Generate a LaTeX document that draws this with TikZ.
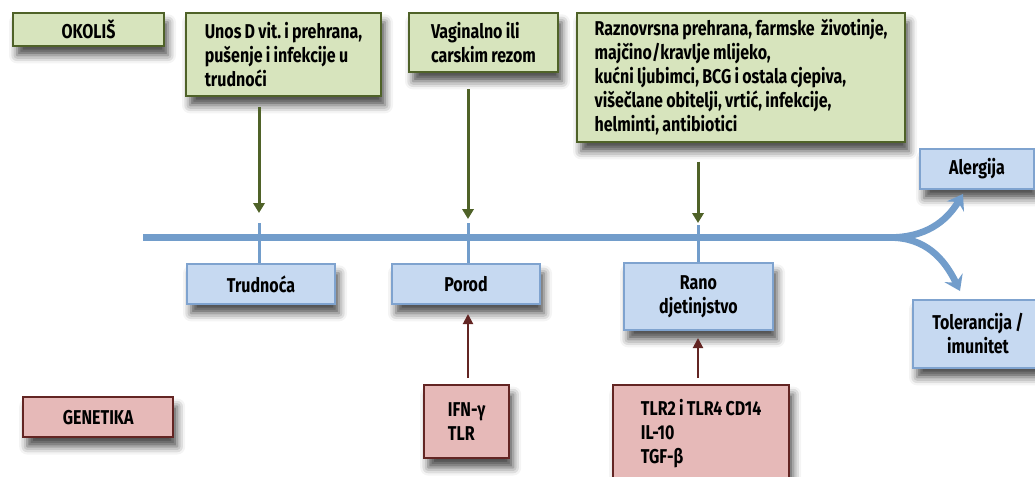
\documentclass[tikz,border=0pt]{standalone}
\usepackage{fontspec}
\setmainfont{Fira Sans}[FakeStretch=0.8, WordSpace=0.85]
\usetikzlibrary{arrows.meta,shadows.blur}
\definecolor{okolisfill}{HTML}{D7E4BD}
\definecolor{okolisline}{HTML}{4F6228}
\definecolor{stadijfill}{HTML}{C6D9F1}
\definecolor{stadijline}{HTML}{7FA3CF}
\definecolor{osline}{HTML}{729DCB}
\definecolor{genfill}{HTML}{E6B9B8}
\definecolor{genline}{HTML}{632523}
\frenchspacing
\begin{document}
\begin{tikzpicture}[x=0.75pt, y=-0.75pt,
    okolis/.style={rectangle, draw=okolisline, fill=okolisfill, line width=1.5pt,
        anchor=north west, inner xsep=3pt, inner ysep=2pt, align=left,
        font=\bfseries\fontsize{15}{18}\selectfont,
        blur shadow={shadow xshift=3pt, shadow yshift=-7pt, shadow blur radius=6pt, shadow opacity=70}},
    stadij/.style={rectangle, draw=stadijline, fill=stadijfill, line width=1.5pt,
        anchor=north west, inner xsep=3pt, inner ysep=2pt, align=center,
        font=\bfseries\fontsize{15}{18}\selectfont,
        blur shadow={shadow xshift=3pt, shadow yshift=-7pt, shadow blur radius=6pt, shadow opacity=70}},
    genetika/.style={rectangle, draw=genline, fill=genfill, line width=1.8pt,
        anchor=north west, inner xsep=3pt, inner ysep=2pt, align=left,
        font=\bfseries\fontsize{15}{18}\selectfont,
        blur shadow={shadow xshift=3pt, shadow yshift=-7pt, shadow blur radius=6pt, shadow opacity=70}},
    utjecaj/.style={draw=okolisline, line width=2.25pt, -{Triangle[length=7.5pt, width=8.5pt]}},
    nasljedje/.style={draw=genline, line width=1.5pt, -{Triangle[length=7.5pt, width=7.5pt]}},
    os/.style={draw=osline, line width=5pt},
    zarez/.style={draw=osline, line width=2.25pt},
    grana/.style={draw=osline, line width=5pt, -{Stealth[length=11pt, width=15pt, inset=4pt]}}
]
\useasboundingbox (0,0) rectangle (1035,476);

\node (Okolis) [okolis, minimum width=113.25pt, minimum height=24.75pt] at (12,12) {OKOLIŠ};
\node (Unos) [okolis, minimum width=146.25pt, minimum height=62.25pt] at (185,12)
  {Unos D vit. i prehrana,\\ pušenje i infekcije u\\ trudnoći};
\node (Vaginalno) [okolis, minimum width=111.75pt, minimum height=44.25pt] at (408,12)
  {Vaginalno ili\\ carskim rezom};
\node (Raznovrsna) [okolis, minimum width=246pt, minimum height=96.75pt] at (576,12)
  {Raznovrsna prehrana, farmske~ životinje,\\ majčino/kravlje mlijeko,\\ kućni ljubimci, BCG i ostala cjepiva,\\ višečlane obitelji, vrtić, infekcije,\\ helminti, antibiotici};

\node (Trudnoca) [stadij, minimum width=111pt, minimum height=30pt] at (186,263) {Trudnoća};
\node (Porod) [stadij, minimum width=111pt, minimum height=30pt] at (391,263) {Porod};
\node (Rano) [stadij, minimum width=111.75pt, minimum height=50.25pt] at (623,262) {Rano\\ djetinjstvo};
\node (Alergija) [stadij, minimum width=85.5pt, minimum height=30pt] at (919,148) {Alergija};
\node (Tolerancija) [stadij, minimum width=97.5pt, minimum height=51pt] at (912,299) {Tolerancija /\\ imunitet};

\node (Genetika) [genetika, minimum width=112.5pt, minimum height=30pt] at (22,396) {GENETIKA};
\node (Ifn) [genetika, minimum width=63.75pt, minimum height=54.75pt] at (423,384) {IFN-γ\\ TLR};
\node (Tlr) [genetika, minimum width=132pt, minimum height=72pt] at (612,384)
  {TLR2 i TLR4 CD14\\ IL-10\\ TGF-β};

\coordinate (Pocetak) at (143,237.5);
\coordinate (Racvanje) at (890,237.5);
\coordinate (Tick01) at (259,223);
\coordinate (Tick02) at (468,223);
\coordinate (Tick03) at (698,225);
\coordinate (AlergijaVrh) at (963,194);
\coordinate (ToleranVrh) at (960,291);

\draw[os] (Pocetak) -- (Racvanje);
\draw[grana] (Racvanje) .. controls (925,237.5) and (946,222) .. (AlergijaVrh);
\draw[grana] (Racvanje) .. controls (925,237.5) and (944,258) .. (ToleranVrh);

\draw[zarez] (Tick01) -- (Tick01 |- Trudnoca.north);
\draw[zarez] (Tick02) -- (Tick02 |- Porod.north);
\draw[zarez] (Tick03) -- (Tick03 |- Rano.north);

\draw[utjecaj, shorten <=7.5pt, shorten >=7.5pt] (Unos.south -| Tick01) -- (Tick01);
\draw[utjecaj, shorten <=12pt, shorten >=3pt] (Vaginalno.south -| Tick02) -- (Tick02);
\draw[utjecaj, shorten <=14pt, shorten >=1.5pt] (Raznovrsna.south -| Tick03) -- (Tick03);

\draw[nasljedje, shorten <=4.5pt, shorten >=6.75pt] (Tick02 |- Ifn.north) -- (Tick02 |- Porod.south);
\draw[nasljedje, shorten <=4.5pt, shorten >=5.25pt] (Tick03 |- Tlr.north) -- (Tick03 |- Rano.south);

\end{tikzpicture}
\end{document}
